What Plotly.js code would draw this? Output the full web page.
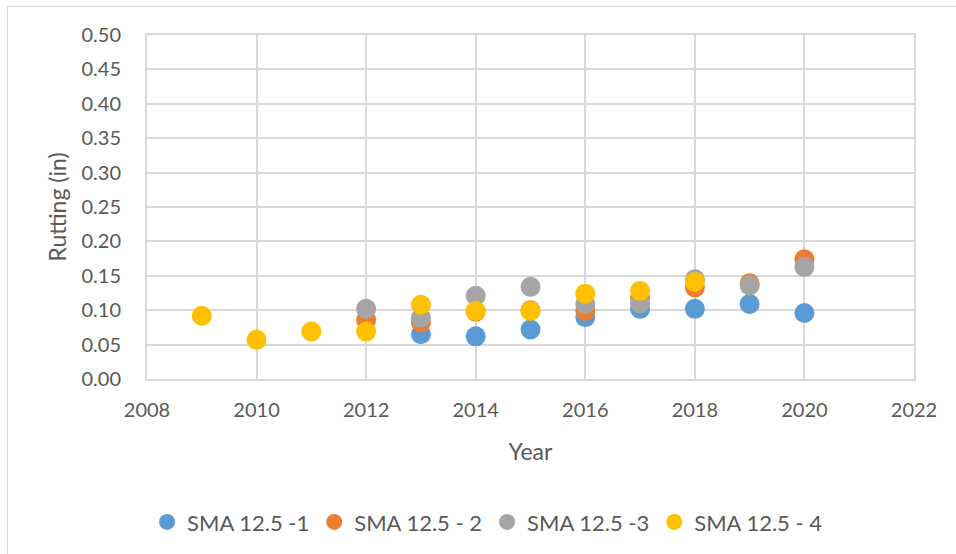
<!DOCTYPE html>
<html>
<head>
<meta charset="utf-8">
<script src="https://cdn.plot.ly/plotly-3.0.1.min.js"></script>
<style>
  html, body { margin: 0; padding: 0; background: #fff; }
  #chart { position: absolute; left: 0; top: 0; width: 956px; height: 554px; }
  #frame { position: absolute; left: 7px; top: 6px; width: 960px; height: 560px; border: 1px solid #d9d9d9; pointer-events: none; }
</style>
</head>
<body>
<div id="chart"></div>
<div id="frame"></div>
<script>
const seriesNames = ["SMA 12.5 -1", "SMA 12.5 - 2", "SMA 12.5 -3", "SMA 12.5 - 4"];
const seriesColors = ["#5B9BD5", "#ED7D31", "#A5A5A5", "#FFC000"];

const years1 = [2013, 2014, 2015, 2016, 2017, 2018, 2019, 2020];
const rut1   = [0.065, 0.062, 0.072, 0.090, 0.102, 0.102, 0.109, 0.096];

const years2 = [2012, 2013, 2014, 2015, 2016, 2017, 2018, 2019, 2020];
const rut2   = [0.086, 0.082, 0.098, 0.100, 0.099, 0.118, 0.133, 0.139, 0.174];

const years3 = [2012, 2013, 2014, 2015, 2016, 2017, 2018, 2019, 2020];
const rut3   = [0.102, 0.089, 0.121, 0.134, 0.109, 0.110, 0.145, 0.136, 0.163];

const years4 = [2009, 2010, 2011, 2012, 2013, 2014, 2015, 2016, 2017, 2018];
const rut4   = [0.092, 0.057, 0.069, 0.069, 0.108, 0.099, 0.099, 0.124, 0.128, 0.141];

const xs = [years1, years2, years3, years4];
const ys = [rut1, rut2, rut3, rut4];

const textColor = "#595959";
const fontFam = "Lato, 'Open Sans', sans-serif";

const traces = seriesNames.map((n, i) => ({
  type: "scatter",
  mode: "markers",
  name: n,
  x: xs[i],
  y: ys[i],
  marker: { color: seriesColors[i], size: 20, line: { width: 0 } }
}));

const layout = {
  width: 956,
  height: 554,
  margin: { l: 147, r: 42, t: 35, b: 174 },
  paper_bgcolor: "#ffffff",
  plot_bgcolor: "#ffffff",
  font: { family: fontFam, color: textColor, size: 20 },
  showlegend: true,
  legend: {
    orientation: "h",
    x: 0.444, xanchor: "center",
    y: -0.412, yanchor: "middle",
    font: { family: fontFam, color: textColor, size: 22 },
    itemsizing: "trace",
    itemwidth: 30,
    traceorder: "normal"
  },
  xaxis: {
    range: [2008, 2022],
    dtick: 2,
    tick0: 2008,
    showgrid: true,
    gridcolor: "#d9d9d9",
    gridwidth: 2,
    zeroline: false,
    showline: true,
    linecolor: "#d9d9d9",
    linewidth: 2,
    mirror: true,
    ticks: "",
    ticklabelstandoff: 12,
    tickfont: { size: 20, color: textColor, family: fontFam },
    title: { text: "Year", font: { size: 23, color: textColor, family: fontFam }, standoff: 24 }
  },
  yaxis: {
    range: [0, 0.5],
    dtick: 0.05,
    tickformat: ".2f",
    showgrid: true,
    gridcolor: "#d9d9d9",
    gridwidth: 2,
    zeroline: false,
    showline: true,
    linecolor: "#d9d9d9",
    linewidth: 2,
    mirror: true,
    ticks: "",
    ticklabelstandoff: 20,
    tickfont: { size: 20, color: textColor, family: fontFam },
    title: { text: "Rutting (in)", font: { size: 23, color: textColor, family: fontFam }, standoff: 8 }
  }
};

Plotly.newPlot("chart", traces, layout, { displayModeBar: false, staticPlot: true });
</script>
</body>
</html>
